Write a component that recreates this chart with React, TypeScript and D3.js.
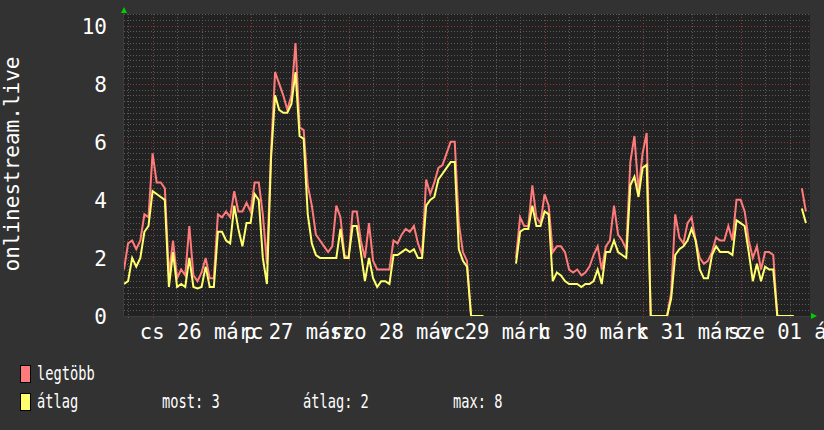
import React, { useEffect, useRef } from 'react';
import * as d3 from 'd3';

// hourly samples starting 2020-03-25 17:00, null = no data
const START = Date.UTC(2020, 2, 25, 17);
const END = Date.UTC(2020, 3, 1, 17);
const HOUR = 3600 * 1000;

const maxValues: (number | null)[] = [
  1.6, 2.5, 2.6, 2.3, 2.6, 3.5, 3.4, 5.6, 4.6, 4.6,
  4.4, 1.4, 2.6, 1.3, 1.6, 1.4, 3.1, 1.4, 1.2, 1.5,
  2.0, 1.3, 1.3, 3.5, 3.4, 3.6, 3.4, 4.3, 3.6, 3.6,
  3.9, 3.6, 4.6, 4.6, 3.5, 1.8, 5.6, 8.4, 8.0, 7.6,
  7.1, 7.6, 9.4, 6.5, 6.4, 4.5, 3.8, 2.8, 2.6, 2.4,
  2.2, 2.4, 3.8, 3.4, 2.1, 2.0, 3.6, 3.6, 2.6, 2.0,
  3.2, 1.9, 1.6, 1.6, 1.6, 1.6, 2.6, 2.5, 2.8, 3.0,
  2.9, 3.1, 2.5, 2.1, 4.7, 4.2, 4.6, 5.1, 5.2, 5.6,
  6.0, 6.0, 3.2, 2.2, 1.9, 0, 0, 0, 0, null,
  null, null, null, null, null, null, 2.0, 3.4, 3.1, 3.1,
  4.5, 3.4, 3.2, 4.2, 3.8, 2.2, 2.4, 2.4, 2.2, 1.6,
  1.5, 1.6, 1.4, 1.5, 1.7, 2.1, 2.4, 1.6, 2.4, 2.6,
  3.8, 2.8, 2.6, 2.3, 5.3, 6.2, 4.3, 5.6, 6.3, 0,
  0, 0, 0, 0, 0.8, 3.5, 2.7, 2.5, 3.2, 3.4,
  2.6, 2.0, 1.8, 1.9, 2.2, 2.7, 2.6, 2.6, 3.1, 2.6,
  4.0, 4.0, 3.6, 2.6, 2.0, 2.4, 1.6, 2.2, 2.2, 2.1,
  0, 0, 0, 0, 0, null, 4.4, 3.6,
];

const avgValues: (number | null)[] = [
  1.1, 1.2, 2.0, 1.7, 2.0, 2.9, 3.1, 4.3, 4.2, 4.1,
  4.0, 1.0, 2.2, 1.0, 1.1, 1.0, 2.0, 1.0, 0.95, 1.0,
  1.7, 1.0, 1.0, 2.9, 2.9, 2.6, 2.5, 3.8, 3.0, 2.4,
  3.2, 3.2, 4.2, 4.0, 2.0, 1.1, 5.4, 7.6, 7.1, 7.0,
  7.0, 7.3, 8.4, 6.2, 6.1, 3.5, 2.5, 2.1, 2.0, 2.0,
  2.0, 2.0, 2.0, 3.0, 2.0, 2.0, 3.1, 3.1, 2.2, 1.2,
  2.0, 1.3, 1.0, 1.2, 1.2, 1.1, 2.1, 2.1, 2.2, 2.3,
  2.2, 2.3, 2.0, 2.0, 3.8, 4.0, 4.1, 4.7, 4.9, 5.1,
  5.3, 5.3, 2.3, 1.9, 1.7, 0, 0, 0, 0, null,
  null, null, null, null, null, null, 1.8, 2.9, 3.0, 3.0,
  3.8, 3.1, 3.1, 3.6, 3.5, 1.2, 1.5, 1.4, 1.2, 1.1,
  1.1, 1.1, 1.0, 1.1, 1.1, 1.2, 1.6, 1.1, 2.2, 2.2,
  2.6, 2.2, 2.1, 2.0, 4.5, 4.8, 4.1, 5.1, 5.2, 0,
  0, 0, 0, 0, 0.6, 2.1, 2.3, 2.4, 2.6, 3.0,
  2.6, 1.6, 1.3, 1.3, 2.1, 2.4, 2.2, 2.2, 2.2, 2.1,
  3.3, 3.2, 3.1, 2.2, 1.2, 1.8, 1.2, 1.7, 1.6, 1.6,
  0, 0, 0, 0, 0, null, 3.7, 3.2,
];

const yTicks = [0, 2, 4, 6, 8, 10];
const dayLabels = ['cs 26 márc', 'p 27 márc', 'szo 28 márc', 'v 29 márc', 'h 30 márc', 'k 31 márc', 'sze 01 ápr'];
const seriesNames = ['legtöbb', 'átlag'];
const seriesColors = ['#ff7b7b', '#ffff6e'];
const statLabels = ['most: 3', 'átlag: 2', 'max: 8'];
const yTitle = 'onlinestream.live';

const W = 824;
const H = 430;
const MONO = '"DejaVu Sans Mono", monospace';

export default function App() {
  const svgRef = useRef<SVGSVGElement>(null);

  useEffect(() => {
    document.body.style.margin = '0';
    if (!svgRef.current) return;
    const svg = d3.select(svgRef.current);
    svg.selectAll('*').remove();

    const plot = { left: 124, right: 810, top: 14, bottom: 316 };

    const x = d3.scaleUtc().domain([START, END]).range([plot.left, plot.right]);
    const y = d3.scaleLinear().domain([0, 10.4]).range([plot.bottom, plot.top]);

    svg.append('rect').attr('width', W).attr('height', H).attr('fill', '#323232');
    svg.append('rect')
      .attr('x', plot.left).attr('y', plot.top)
      .attr('width', plot.right - plot.left).attr('height', plot.bottom - plot.top)
      .attr('fill', '#222222');

    const grid = svg.append('g').attr('shape-rendering', 'crispEdges');

    // horizontal grid: minor every 0.2, major every 2
    d3.range(1, 53).forEach(k => {
      const v = k * 0.2;
      const major = k % 10 === 0;
      grid.append('line')
        .attr('x1', plot.left).attr('x2', plot.right)
        .attr('y1', Math.round(y(v)) + 0.5).attr('y2', Math.round(y(v)) + 0.5)
        .attr('stroke', major ? '#8a3a3a' : '#5a5a5a')
        .attr('stroke-dasharray', '1,2');
    });

    // vertical grid: minor every 6 hours, major at midnight
    const sixHours = d3.utcHour.every(6)!.range(new Date(START), new Date(END));
    sixHours.forEach(t => {
      const major = t.getUTCHours() === 0;
      const px = Math.round(x(t)) + 0.5;
      grid.append('line')
        .attr('x1', px).attr('x2', px)
        .attr('y1', plot.top).attr('y2', plot.bottom + (major ? 3 : 2))
        .attr('stroke', major ? '#8a3a3a' : '#5a5a5a')
        .attr('stroke-dasharray', '1,2');
    });

    // axis lines
    grid.append('line')
      .attr('x1', plot.left - 0.5).attr('x2', plot.left - 0.5)
      .attr('y1', plot.top - 2).attr('y2', plot.bottom)
      .attr('stroke', '#3c3c3c');
    grid.append('line')
      .attr('x1', plot.left).attr('x2', plot.right + 2)
      .attr('y1', plot.bottom + 0.5).attr('y2', plot.bottom + 0.5)
      .attr('stroke', '#3c3c3c');

    // series
    const clip = svg.append('clipPath').attr('id', 'plotclip')
      .append('rect')
      .attr('x', plot.left).attr('y', plot.top)
      .attr('width', plot.right - plot.left).attr('height', plot.bottom - plot.top);

    const line = d3.line<number | null>()
      .defined(d => d !== null)
      .x((_, i) => x(START + i * HOUR))
      .y(d => y(d as number));

    [maxValues, avgValues].forEach((vals, si) => {
      svg.append('path')
        .datum(vals)
        .attr('clip-path', 'url(#plotclip)')
        .attr('fill', 'none')
        .attr('stroke', seriesColors[si])
        .attr('stroke-width', 2)
        .attr('stroke-linejoin', 'miter')
        .attr('d', line);
    });

    // arrows
    svg.append('path')
      .attr('d', `M${plot.left - 3},${plot.top - 1} L${plot.left + 3},${plot.top - 1} L${plot.left},${plot.top - 7} Z`)
      .attr('fill', '#00d000');
    svg.append('path')
      .attr('d', `M${plot.right + 1},${plot.bottom - 3} L${plot.right + 1},${plot.bottom + 3} L${plot.right + 7},${plot.bottom} Z`)
      .attr('fill', '#00d000');

    // y tick labels
    svg.append('g')
      .selectAll('text')
      .data(yTicks)
      .join('text')
      .attr('x', 107)
      .attr('y', d => y(d) + 8)
      .attr('text-anchor', 'end')
      .attr('font-family', MONO)
      .attr('font-size', 21)
      .attr('fill', '#ffffff')
      .text(d => d);

    // x labels, centred at noon of each day
    svg.append('g')
      .selectAll('text')
      .data(dayLabels)
      .join('text')
      .attr('x', (_, i) => x(Date.UTC(2020, 2, 26 + i, 12)))
      .attr('y', 339)
      .attr('text-anchor', 'middle')
      .attr('font-family', MONO)
      .attr('font-size', 20.5)
      .attr('fill', '#ffffff')
      .text(d => d);

    // y title
    svg.append('text')
      .attr('transform', 'translate(19,164) rotate(-90)')
      .attr('text-anchor', 'middle')
      .attr('font-family', MONO)
      .attr('font-size', 21)
      .attr('fill', '#ffffff')
      .text(yTitle);

    // legend
    const legend = svg.append('g');
    seriesNames.forEach((name, i) => {
      const top = 365 + i * 28;
      legend.append('rect')
        .attr('x', 20.5).attr('y', top + 0.5)
        .attr('width', 10).attr('height', 17)
        .attr('fill', seriesColors[i])
        .attr('stroke', '#000');
      legend.append('text')
        .attr('transform', `translate(37,${top + 15}) scale(0.72,1)`)
        .attr('font-family', MONO)
        .attr('font-size', 19)
        .attr('fill', '#ffffff')
        .text(name);
    });
    const statX = [162, 303, 453];
    statLabels.forEach((s, i) => {
      legend.append('text')
        .attr('transform', `translate(${statX[i]},${393 + 15}) scale(0.72,1)`)
        .attr('font-family', MONO)
        .attr('font-size', 19)
        .attr('fill', '#ffffff')
        .text(s);
    });
  }, []);

  return (
    <svg
      ref={svgRef}
      width={W}
      height={H}
      style={{ position: 'absolute', left: 0, top: 0, display: 'block' }}
    />
  );
}
